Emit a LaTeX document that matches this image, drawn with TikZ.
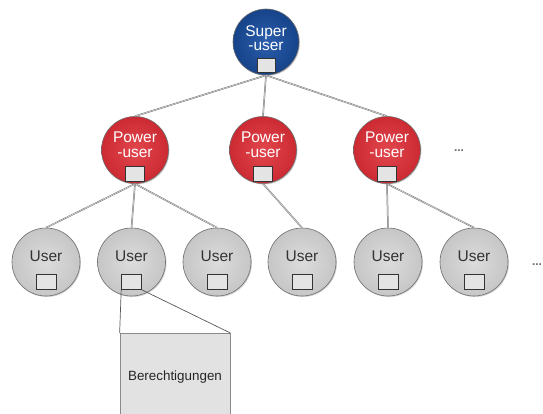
\documentclass[tikz,border=0pt]{standalone}
\usepackage{fontspec}
\setmainfont{Liberation Sans}
\usetikzlibrary{shadows}
\definecolor{supin}{HTML}{2B5EAD}
\definecolor{supout}{HTML}{164389}
\definecolor{powin}{HTML}{E2474D}
\definecolor{powout}{HTML}{CC2A33}
\definecolor{usrin}{HTML}{DCDCDC}
\definecolor{usrout}{HTML}{C6C6C6}
\definecolor{sqfill}{HTML}{E4E4E4}
\definecolor{boxfill}{HTML}{E2E2E2}
\definecolor{boxdraw}{HTML}{8A8A8A}
\tikzset{
  circ/.style={circle, draw=gray!85!black, line width=0.6pt, minimum size=66pt, inner sep=0pt,
    drop shadow={shadow xshift=1pt, shadow yshift=-1pt, opacity=0.35, fill=gray}},
  superc/.style={circ, inner color=supin, outer color=supout},
  powerc/.style={circ, minimum size=67pt, inner color=powin, outer color=powout},
  userc/.style={circ, minimum size=68pt, inner color=usrin, outer color=usrout},
  lbl/.style={font=\fontsize{15.5}{15.5}\selectfont, inner sep=0pt, anchor=base},
  wlbl/.style={lbl, text=white},
  glbl/.style={lbl, text=black!80},
  sq/.style={draw=black!80, fill=sqfill, line width=0.6pt, minimum width=19pt, minimum height=14pt, inner sep=0pt},
  link/.style={draw=black!55, double=white!80!gray, double distance=0.5pt, line width=0.5pt},
  plink/.style={draw=black!65, line width=0.7pt},
  dotsl/.style={font=\fontsize{12}{12}\selectfont\bfseries, text=gray!85!black, inner sep=0pt},
  permbox/.style={draw=boxdraw, fill=boxfill, line width=0.7pt, minimum width=110pt, minimum height=88pt,
    inner sep=0pt, font=\fontsize{13.4}{13.4}\selectfont, text=black!85,
    drop shadow={shadow xshift=1.3pt, shadow yshift=0pt, opacity=0.5, fill=gray}},
}
\begin{document}
\begin{tikzpicture}[x=1pt, y=-1pt]
\clip (0,0) rectangle (543,414);
\fill[white] (0,0) rectangle (543,414);
% super user
\node[superc] (su) at (266,42) {};
\node[wlbl] (sut1) at (266,37) {Super};
\node[wlbl] (sut2) at (266,51) {-user};
\node[sq, minimum width=18pt] (susq) at (266,65) {};
% power users
\foreach \i/\x in {1/135, 2/263, 3/387} {
  \node[powerc] (p\i) at (\x,150) {};
  \node[wlbl] (p\i t1) at (\x,143) {Power};
  \node[wlbl] (p\i t2) at (\x,158) {-user};
  \node[sq, minimum height=15pt] (p\i sq) at (\x,174) {};
}
% users
\foreach \i/\x in {1/46, 2/131.5, 3/217, 4/302, 5/388, 6/474} {
  \node[userc] (u\i) at (\x,262) {};
  \node[glbl] (u\i t) at (\x,261) {User};
  \node[sq, minimum width=20pt, minimum height=15pt] (u\i sq) at (\x,282) {};
}
% dots
\node[dotsl] (d1) at (459,151) {...};
\node[dotsl] (d2) at (537,265) {...};
% permissions box
\node[permbox, anchor=north] (perm) at (175,333) {Berechtigungen};
% connectors
\draw[link] (su.south) -- (p1.north);
\draw[link] (su.south) -- (p2.north);
\draw[link] (su.south) -- (p3.north);
\draw[link] (p1.south) -- (u1.north);
\draw[link] (p1.south) -- (u2.north);
\draw[link] (p1.south) -- (u3.north);
\draw[link] (p2.south) -- (u4.north);
\draw[link] (p3.south) -- (u5.north);
\draw[link] (p3.south) -- (u6.north);
\draw[plink] (u2sq.south west) -- (perm.north west);
\draw[plink] (u2sq.south east) -- (perm.north east);
\end{tikzpicture}
\end{document}
